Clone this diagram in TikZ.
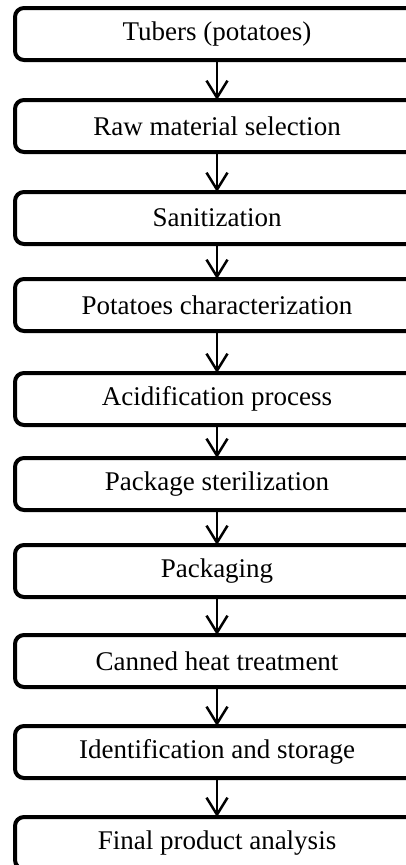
\documentclass[tikz,border=0pt]{standalone}
\usepackage{fontspec}
\setmainfont{Liberation Serif}
\usetikzlibrary{arrows.meta}
\begin{document}
\begin{tikzpicture}[x=1pt,y=-1pt,
  stepbox/.style={draw=black, line width=4pt, rounded corners=9pt, fill=white,
    minimum width=404pt, minimum height=52pt, inner sep=0pt, outer sep=0pt,
    font=\fontsize{27}{30}\selectfont},
  flow/.style={line width=2.5pt, -{Straight Barb[length=17pt,width=21pt,line width=2.5pt]}}]
\clip (0,0) rectangle (406,865);
\fill[white] (0,0) rectangle (406,865);
\node[stepbox] (n1) at (217,34) {Tubers (potatoes)};
\node[stepbox] (n2) at (217,126) {Raw material selection};
\node[stepbox] (n3) at (217,218) {Sanitization};
\node[stepbox] (n4) at (217,305) {Potatoes characterization};
\node[stepbox] (n5) at (217,399) {Acidification process};
\node[stepbox] (n6) at (217,484) {Package sterilization};
\node[stepbox] (n7) at (217,571) {Packaging};
\node[stepbox] (n8) at (217,661) {Canned heat treatment};
\node[stepbox] (n9) at (217,752) {Identification and storage};
\node[stepbox] (n10) at (217,843) {Final product analysis};
\foreach \a/\b in {n1/n2,n2/n3,n3/n4,n4/n5,n5/n6,n6/n7,n7/n8,n8/n9,n9/n10}
  \draw[flow] (\a.south) -- (\b.north);
\end{tikzpicture}
\end{document}
